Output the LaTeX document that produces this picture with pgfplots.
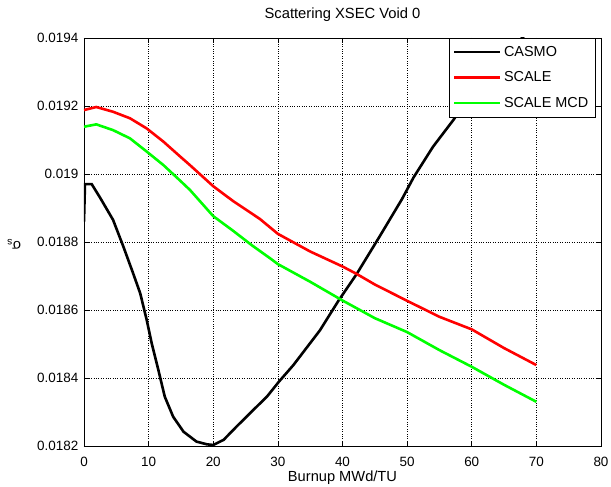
\documentclass[border=0pt]{standalone}
\usepackage{fontspec}
\setmainfont{Liberation Sans}
\usepackage{pgfplots}
\pgfplotsset{compat=1.18}
\begin{document}
\fontsize{13.5}{16}\selectfont
\begin{tikzpicture}
\path[use as bounding box] (-84bp,-41bp) rectangle (527bp,446bp);
\begin{axis}[
  scale only axis, width=517bp, height=408bp,
  xmin=0, xmax=80, ymin=0.0182, ymax=0.0194,
  xtick={0,10,...,80},
  ytick={0.0182,0.0184,0.0186,0.0188,0.019,0.0192,0.0194},
  yticklabels={0.0182,0.0184,0.0186,0.0188,0.019,0.0192,0.0194},
  scaled y ticks=false,
  tick pos=both, tick align=inside, major tick length=5bp,
  /pgf/number format/assume math mode=true,
  grid=major, grid style={black, dotted, line width=0.6bp},
  axis line style={black, line width=0.8bp},
  tick style={black, line width=0.6bp},
  ticklabel style={font=\fontsize{13.5}{16}\selectfont},
  yticklabel style={anchor=east, xshift=-5.5bp, inner sep=0bp},
  xticklabel style={anchor=base, yshift=-20.5bp, inner sep=0bp},
  title={Scattering XSEC Void 0},
  title style={at={(axis description cs:0.5,1.0343)}, anchor=base, inner sep=0bp, font=\fontsize{14.8}{17}\selectfont},
  xlabel={Burnup MWd/TU},
  xlabel style={at={(axis description cs:0.5,-0.0882)}, anchor=base, inner sep=0bp, font=\fontsize{14.7}{17}\selectfont},
  ylabel={σ\textsubscript{s}},
  ylabel style={at={(axis description cs:-0.1354,0.495)}, anchor=center, rotate=90, inner sep=0bp, font=\fontsize{14.5}{17}\selectfont},
  legend style={at={(axis description cs:0.9884,1.0)}, anchor=north east,
    draw=black, fill=white, font=\fontsize{14.5}{17}\selectfont,
    inner xsep=4bp, inner ysep=7bp, row sep=11.5bp, column sep=0bp,
    nodes={text height=11bp, text depth=3bp, inner xsep=2.5bp, inner ysep=0bp},
    cells={anchor=west}},
  legend cell align=left,
  legend image code/.code={\draw[#1, line width=2.6bp] (0bp,0bp) -- (46bp,0bp);},
  clip=true,
]
\addplot[black, line width=2.6bp] coordinates {
(0,0.01886)(0.15,0.01897)(1.2,0.01897)(2.5,0.01893)(4.5,0.018865)(6.1,0.018786)
(7.6,0.018708)(8.7,0.018649)(9.7,0.018571)(10.5,0.018500)(11.5,0.018424)(12.5,0.018345)
(13.8,0.018286)(15.4,0.018242)(17.4,0.018213)(19,0.018205)(20,0.018203)(21.6,0.018218)
(23.6,0.018257)(26.2,0.018306)(28.3,0.018345)(30.2,0.018390)(32.4,0.018438)(36.5,0.01854)
(39.4,0.018628)(42.2,0.018706)(45.8,0.018818)(49.2,0.018926)(51,0.01899)(54,0.01908)
(57.2,0.01916)(60,0.01924)(65,0.01935)(70,0.01944)
};
\addlegendentry{CASMO}
\addplot[red, line width=2.6bp] coordinates {
(0,0.019188)(1.9,0.019197)(4.5,0.019183)(7.1,0.019164)(9.7,0.019134)(12.3,0.019095)
(14.9,0.019051)(16.4,0.019026)(20,0.018964)(23.1,0.018920)(27.2,0.018868)(30,0.018824)
(35,0.018772)(40,0.018728)(42.2,0.018706)(45,0.018675)(50,0.018627)(55,0.018580)
(60,0.018543)(65,0.018488)(70,0.018438)
};
\addlegendentry{SCALE}
\addplot[green, line width=2.6bp] coordinates {
(0,0.019139)(1.9,0.019146)(4.5,0.019129)(7.1,0.019105)(9.7,0.019066)(12.3,0.019026)
(14.9,0.018980)(16.4,0.018953)(20,0.018876)(23,0.018834)(26,0.018790)(28.8,0.018752)
(30,0.018735)(35,0.018683)(40,0.018628)(45,0.018576)(50,0.018535)(55,0.018482)
(60,0.018433)(65,0.018380)(70,0.01833)
};
\addlegendentry{SCALE MCD}
\end{axis}
\end{tikzpicture}
\end{document}
